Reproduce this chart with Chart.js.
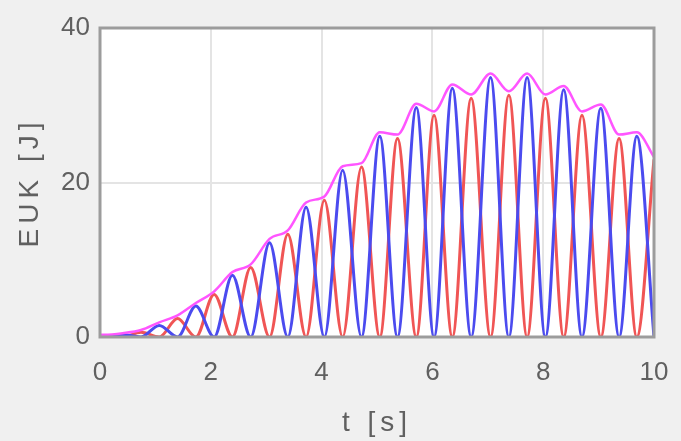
<!DOCTYPE html>
<html>
<head>
<meta charset="utf-8">
<script src="https://cdn.jsdelivr.net/npm/chart.js@4.4.1/dist/chart.umd.min.js"></script>
<style>
    html, body { margin: 0; padding: 0; background: #f0f0f0; }
    #energyChart { display: block; }
</style>
</head>
<body>
<canvas id="energyChart" width="681" height="441"></canvas>
<script>
// Peaks: t [s] and EUK [J]
const blueTimes = [0.41, 1.07, 1.73, 2.39, 3.06, 3.72, 4.38, 5.05, 5.71, 6.36, 7.05, 7.71, 8.37, 9.04, 9.69];
const bluePeaks = [0.3, 1.5, 4.0, 8.0, 12.2, 16.8, 21.6, 26.0, 29.7, 32.2, 33.6, 33.6, 32.0, 29.6, 26.0];
const redTimes = [0.08, 0.74, 1.40, 2.06, 2.72, 3.39, 4.05, 4.72, 5.37, 6.03, 6.70, 7.38, 8.04, 8.70, 9.37, 10.0];
const redPeaks = [0.0, 0.6, 2.4, 5.5, 9.0, 13.3, 17.7, 22.0, 25.7, 28.7, 30.9, 31.3, 30.9, 28.7, 25.7, 23.0];
// total (magenta) line, at t = 0 and then at every peak time in order
const totalValues = [0.3, 0.3, 0.5, 0.9, 1.9, 2.8, 4.4, 5.9, 8.4, 9.4, 12.7, 13.8, 17.4, 18.2, 22.1, 22.5,
    26.5, 26.2, 30.2, 29.2, 32.7, 31.4, 34.1, 31.8, 34.1, 31.4, 32.5, 29.2, 30.1, 26.2, 26.5, 23.3];

const xTicks = [0, 2, 4, 6, 8, 10];
const yTicks = [0, 20, 40];
const xTitle = 't [s]';
const yTitle = 'EUK [J]';

// a curve touches zero where the other one peaks
function buildCurve(peakTimes, peakValues, zeroTimes) {
    const pts = [{ x: 0, y: 0 }];
    peakTimes.forEach((t, i) => pts.push({ x: t, y: peakValues[i] }));
    zeroTimes.forEach(t => pts.push({ x: t, y: 0 }));
    pts.sort((a, b) => a.x - b.x);
    return pts;
}

const allTimes = [0].concat(blueTimes, redTimes).sort((a, b) => a - b);
const totalData = allTimes.map((t, i) => ({ x: t, y: totalValues[i] }));

const frame = {
    id: 'frame',
    beforeDraw(chart) {
        const { ctx, chartArea: a } = chart;
        ctx.save();
        ctx.fillStyle = '#f0f0f0';
        ctx.fillRect(0, 0, chart.width, chart.height);
        ctx.fillStyle = '#ffffff';
        ctx.fillRect(a.left, a.top, a.right - a.left, a.bottom - a.top);
        ctx.restore();
    },
    afterDraw(chart) {
        const { ctx, chartArea: a } = chart;
        ctx.save();
        ctx.strokeStyle = '#9c9c9c';
        ctx.lineWidth = 3;
        ctx.strokeRect(a.left, a.top, a.right - a.left, a.bottom - a.top);

        // axis titles, spaced out like the original
        ctx.fillStyle = '#606060';
        ctx.font = '28px "Liberation Sans", Arial, sans-serif';
        ctx.letterSpacing = '5px';
        ctx.textAlign = 'center';
        ctx.textBaseline = 'middle';
        ctx.fillText(xTitle, (a.left + a.right) / 2, 423);
        ctx.translate(30, (a.top + a.bottom) / 2);
        ctx.rotate(-Math.PI / 2);
        ctx.fillText(yTitle, 0, 0);
        ctx.restore();
    }
};

new Chart(document.getElementById('energyChart'), {
    type: 'line',
    data: {
        datasets: [
            {
                label: 'total',
                data: totalData,
                borderColor: '#ff55ff',
                borderWidth: 2.5,
                pointRadius: 0,
                cubicInterpolationMode: 'monotone'
            },
            {
                label: 'blue',
                data: buildCurve(blueTimes, bluePeaks, redTimes),
                borderColor: '#4b4bef',
                borderWidth: 3,
                pointRadius: 0,
                cubicInterpolationMode: 'monotone'
            },
            {
                label: 'red',
                data: buildCurve(redTimes, redPeaks, blueTimes),
                borderColor: '#f05555',
                borderWidth: 3,
                pointRadius: 0,
                cubicInterpolationMode: 'monotone'
            }
        ]
    },
    options: {
        responsive: false,
        animation: false,
        layout: { padding: { top: 28, right: 27, left: 0, bottom: 0 } },
        plugins: { legend: { display: false }, tooltip: { enabled: false } },
        scales: {
            x: {
                type: 'linear',
                min: 0,
                max: 10,
                afterBuildTicks: scale => { scale.ticks = xTicks.map(v => ({ value: v })); },
                afterFit: scale => {
                    scale.height = 104;
                    scale.paddingLeft = 0;
                    scale.paddingRight = 0;
                },
                grid: { color: '#e4e4e4', lineWidth: 2, drawTicks: false },
                border: { display: false },
                ticks: {
                    padding: 20,
                    color: '#606060',
                    font: { size: 26, family: '"Liberation Sans", Arial, sans-serif' }
                }
            },
            y: {
                min: 0,
                max: 40,
                afterBuildTicks: scale => { scale.ticks = yTicks.map(v => ({ value: v })); },
                afterFit: scale => { scale.width = 100; },
                grid: { color: '#e4e4e4', lineWidth: 2, drawTicks: false },
                border: { display: false },
                ticks: {
                    padding: 10,
                    color: '#606060',
                    font: { size: 26, family: '"Liberation Sans", Arial, sans-serif' }
                }
            }
        }
    },
    plugins: [frame]
});
</script>
</body>
</html>
